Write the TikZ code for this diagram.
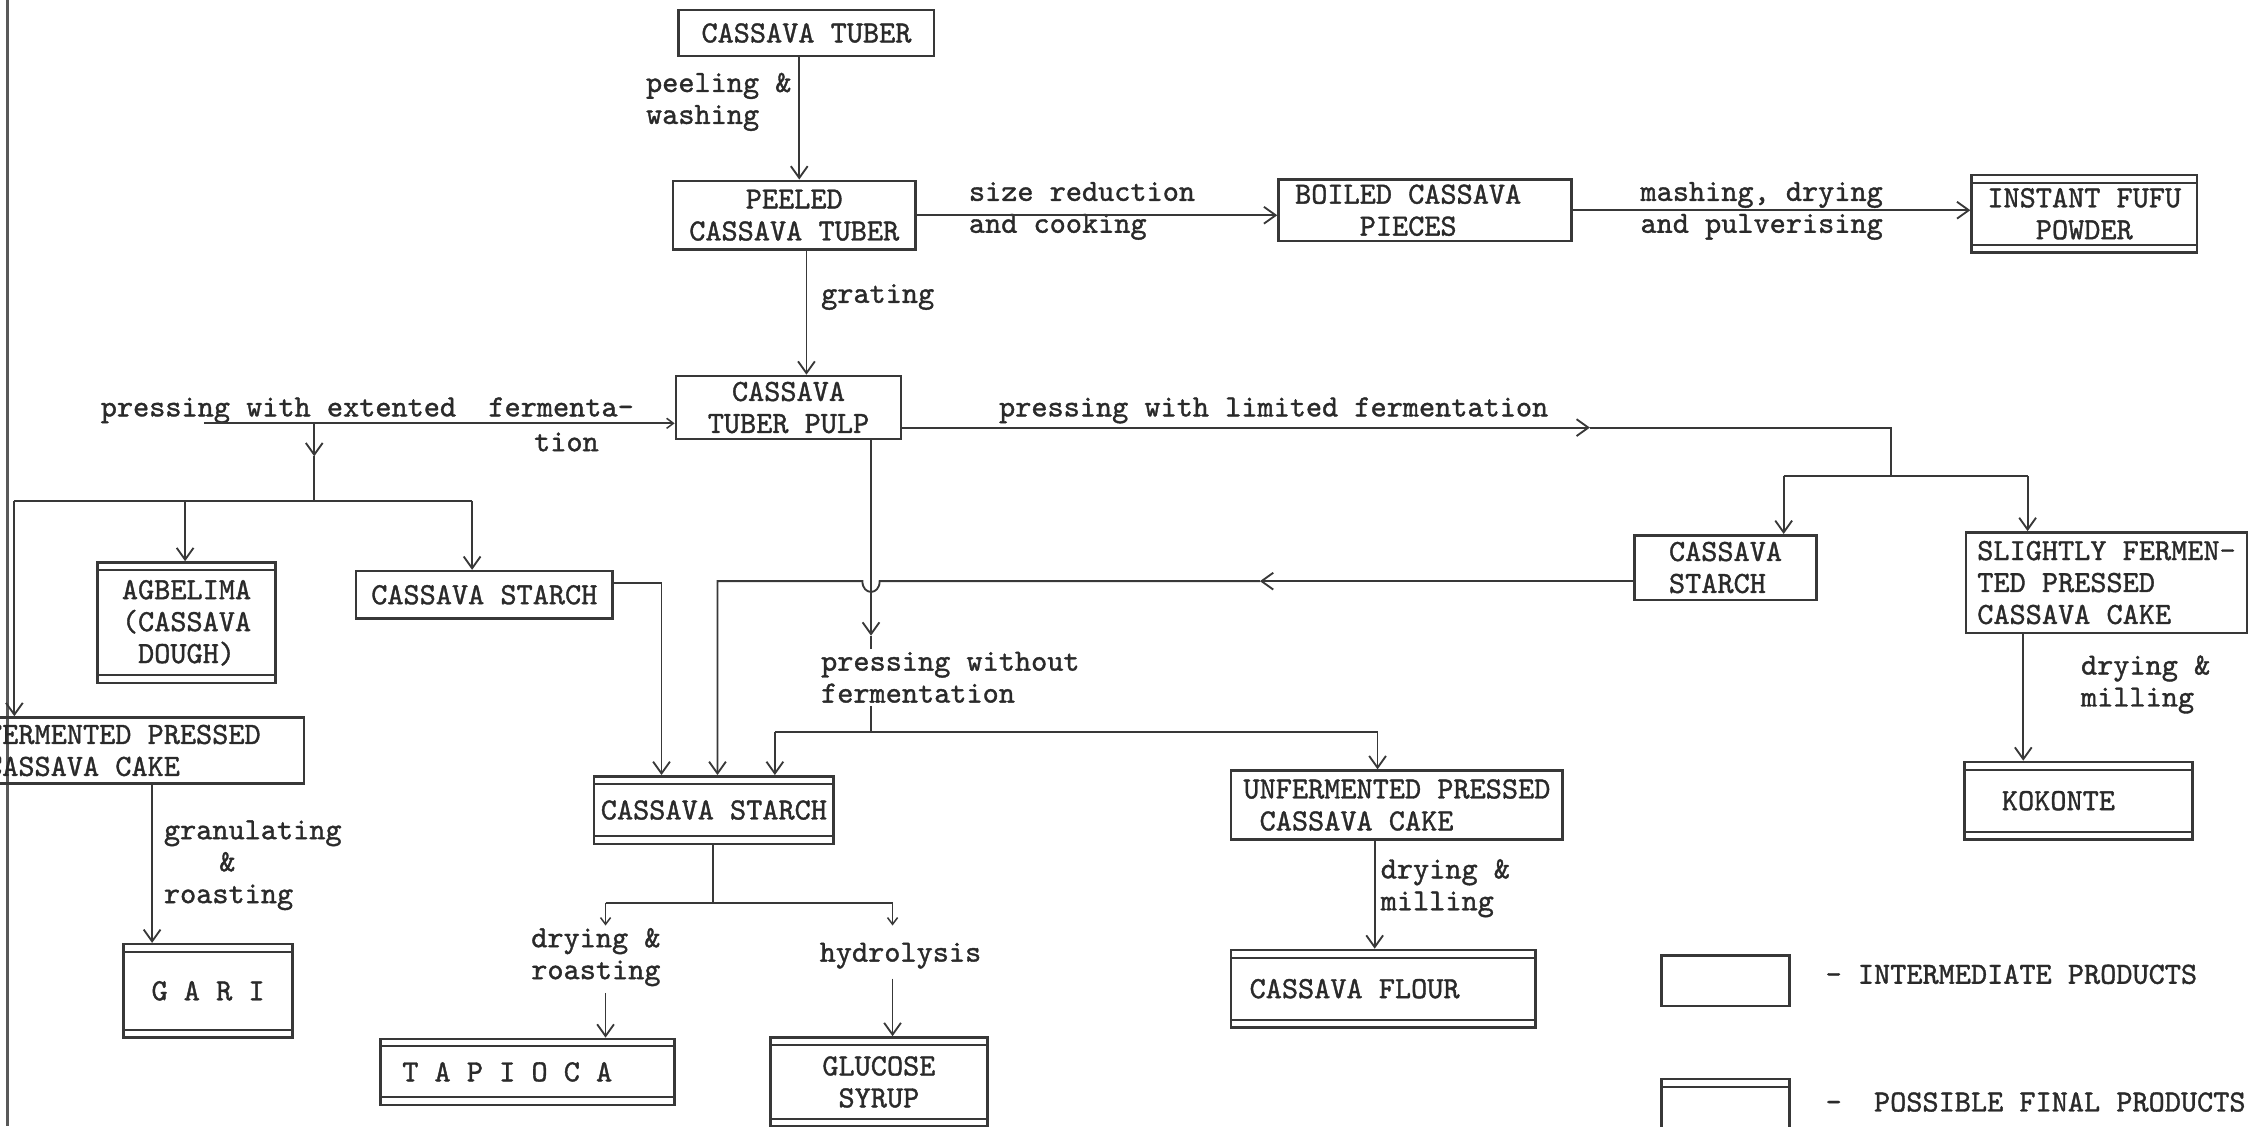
\documentclass[tikz,border=0pt]{standalone}
\usepackage{fontspec}
\usetikzlibrary{arrows.meta}
\newfontfamily\typew{lmmono10-regular.otf}[FakeBold=1.2]
\definecolor{ink}{HTML}{383838}
\definecolor{type}{HTML}{2A2A2A}
\newcommand{\typefont}{\fontsize{18.3}{19}\selectfont\typew}
\begin{document}
\begin{tikzpicture}[x=0.03cm, y=-0.03cm,
  conn/.style={draw=ink, line width=1.1pt},
  arr/.style={conn, -{Straight Barb[length=7pt,width=10pt,line width=1.1pt]}},
  tinyarr/.style={conn, -{Straight Barb[length=4pt,width=6pt,line width=0.9pt]}},
  ibox/.style={draw=ink, line width=1.5pt, inner sep=0pt, font=\typefont, text=type, align=center},
  fbox/.style={ibox, path picture={
    \draw[ink, line width=1.2pt]
      ([yshift=-4.5pt]path picture bounding box.north west) -- ([yshift=-4.5pt]path picture bounding box.north east)
      ([yshift=4.5pt]path picture bounding box.south west) -- ([yshift=4.5pt]path picture bounding box.south east);}},
  lbl/.style={font=\typefont, text=type, align=left, inner sep=0pt, anchor=west}]

\useasboundingbox (0,0) rectangle (1568,785);

% edge of the sheet
\draw[draw=black!65, line width=0.07cm] (5,0) -- (5,785);

% ---------- boxes ----------
\node[ibox, minimum width=5.34cm, minimum height=0.96cm] (tuber) at (562,23) {CASSAVA TUBER};
\node[ibox, minimum width=5.07cm, minimum height=1.44cm] (peeled) at (553.5,150) {PEELED\\CASSAVA TUBER};
\node[ibox, minimum width=6.12cm, minimum height=1.29cm] (boiled) at (993,146.5) {BOILED CASSAVA\hspace*{0.7cm}\\PIECES\hspace*{0.7cm}};
\node[fbox, minimum width=4.71cm, minimum height=1.62cm] (fufu) at (1452.5,149) {INSTANT FUFU\\POWDER};
\node[ibox, minimum width=4.71cm, minimum height=1.32cm] (pulp) at (549.5,284) {CASSAVA\\TUBER PULP};

\node[fbox, minimum width=3.72cm, minimum height=2.52cm] (agbelima) at (130,434) {AGBELIMA\\(CASSAVA\\DOUGH)};
\node[ibox, minimum width=5.37cm, minimum height=0.99cm] (starchL) at (337.5,414.5) {CASSAVA STARCH};
\node[ibox, minimum width=7.56cm, minimum height=1.38cm, align=left] (fcake) at (86,523) {FERMENTED PRESSED\\CASSAVA CAKE};
\node[fbox, minimum width=3.54cm, minimum height=1.95cm] (gari) at (145,690.5) {G A R I};

\node[fbox, minimum width=5.01cm, minimum height=1.41cm] (starchC) at (497.5,564.5) {CASSAVA STARCH};
\node[fbox, minimum width=6.15cm, minimum height=1.38cm] (tapioca) at (367.5,747) {T A P I O C A\hspace*{0.84cm}};
\node[fbox, minimum width=4.53cm, minimum height=1.86cm] (glucose) at (612.5,754) {GLUCOSE\\SYRUP};

\node[ibox, minimum width=6.93cm, minimum height=1.44cm, align=left] (unf) at (973.5,561) {UNFERMENTED PRESSED\\\hspace*{0.525em}CASSAVA CAKE};
\node[fbox, minimum width=6.36cm, minimum height=1.62cm] (flour) at (964,689) {CASSAVA FLOUR\hspace*{1.2cm}};

\node[ibox, minimum width=3.81cm, minimum height=1.35cm, align=left] (starchR) at (1202.5,395.5) {CASSAVA\\STARCH};
\node[ibox, minimum width=5.88cm, minimum height=2.1cm, align=left] (slight) at (1468,406) {SLIGHTLY FERMEN-\\TED PRESSED\\CASSAVA CAKE};
\node[fbox, minimum width=4.77cm, minimum height=1.62cm] (kokonte) at (1448.5,558) {KOKONTE\hspace*{0.84cm}};

% legend
\node[ibox, minimum width=2.67cm, minimum height=1.05cm] (legI) at (1202.5,683.5) {};
\node[fbox, minimum width=2.67cm, minimum height=1.44cm] (legF) at (1202.5,776) {};

% ---------- process labels ----------
\node[lbl] (lPeel) at (450,71) {peeling \&\\washing};
\node[lbl] (lSize) at (675,147) {size reduction\\and cooking};
\node[lbl] (lMash) at (1143,147) {mashing, drying\\and pulverising};
\node[lbl] (lGrate) at (572,207) {grating};
\node[lbl] (lExt) at (70,286) {pressing with extented\ \ fermenta-};
\node[lbl] (lTion) at (372,308) {tion};
\node[lbl] (lLim) at (696,286) {pressing with limited fermentation};
\node[lbl] (lGran) at (114,603) {granulating\\\hspace*{1.8em}\&\\roasting};
\node[lbl] (lWo) at (572,472) {pressing without\\fermentation};
\node[lbl] (lDR) at (370,667) {drying \&\\roasting};
\node[lbl] (lHyd) at (571,666) {hydrolysis};
\node[lbl] (lDM1) at (962,619) {drying \&\\milling};
\node[lbl] (lDM2) at (1450,477) {drying \&\\milling};
\node[lbl] (lLegI) at (1272,679) {-\ INTERMEDIATE PRODUCTS};
\node[lbl] (lLegF) at (1272,768) {-\ \ POSSIBLE FINAL PRODUCTS};

% ---------- routing points ----------
\coordinate (c1) at (557,0);
\coordinate (c2) at (562,0);
\coordinate (uL) at (142,295);
\coordinate (jL) at (219,295);
\coordinate (aL) at (219,318);
\coordinate (bL) at (219,349);
\coordinate (bLl) at (10,349);
\coordinate (cA) at (129,349);
\coordinate (bLr) at (329,349);
\coordinate (sL) at (461,406);
\coordinate (cG) at (106,0);
\coordinate (cP) at (607,0);
\coordinate (pA) at (607,443);
\coordinate (pEnd) at (607,452);
\coordinate (pw) at (607,492);
\coordinate (pwj) at (607,510);
\coordinate (pwl) at (540,510);
\coordinate (pwr) at (960,510);
\coordinate (hA) at (878,405);
\coordinate (hp1) at (613,405);
\coordinate (hp2) at (601,405);
\coordinate (hL) at (500,405);
\coordinate (rA) at (1108,298);
\coordinate (rJ) at (1318,298);
\coordinate (rJ2) at (1318,332);
\coordinate (rL) at (1243,332);
\coordinate (rR) at (1413,332);
\coordinate (cK) at (1410,0);
\coordinate (cF) at (958,0);
\coordinate (cS) at (497,0);
\coordinate (tJ) at (497,629);
\coordinate (tL) at (422,629);
\coordinate (tR) at (622,629);
\coordinate (tLa) at (422,645);
\coordinate (tRa) at (622,645);
\coordinate (tL2) at (422,692);
\coordinate (tR2) at (622,682);

% ---------- connectors ----------
\draw[arr] (tuber.south -| c1) -- (peeled.north -| c1);
\draw[arr] (peeled.south -| c2) -- (pulp.north -| c2);
\draw[arr] (peeled.east) -- (peeled.east -| boiled.west);
\draw[arr] (boiled.east) -- (boiled.east -| fufu.west);

% extended fermentation branch
\draw[tinyarr] (uL) -- (pulp.west |- uL);
\draw[arr] (jL) -- (aL);
\draw[conn] (aL) -- (bL);
\draw[conn] (bLl) -- (bLr);
\draw[arr] (bLl) -- (fcake.north -| bLl);
\draw[arr] (cA) -- (agbelima.north -| cA);
\draw[arr] (bLr) -- (starchL.north -| bLr);
\draw[arr] (starchL.east |- sL) -- (sL) -- (starchC.north -| sL);
\draw[arr] (fcake.south -| cG) -- (gari.north -| cG);

% pressing without fermentation
\draw[arr] (pulp.south -| cP) -- (pA);
\draw[conn] (pA) -- (pEnd);
\draw[conn] (pw) -- (pwj);
\draw[conn] (pwl) -- (pwr);
\draw[arr] (pwl) -- (starchC.north -| pwl);
\draw[arr] (pwr) -- (unf.north -| pwr);

% starch returned from the limited fermentation route
\draw[arr] (starchR.west |- hA) -- (hA);
\draw[arr] (hA) -- (hp1) .. controls +(0,10) and +(0,10) .. (hp2) -- (hL) -- (starchC.north -| hL);

% limited fermentation branch
\draw[arr] (pulp.east |- rA) -- (rA);
\draw[conn] (rA) -- (rJ) -- (rJ2);
\draw[conn] (rL) -- (rR);
\draw[arr] (rL) -- (starchR.north -| rL);
\draw[arr] (rR) -- (slight.north -| rR);
\draw[arr] (slight.south -| cK) -- (kokonte.north -| cK);

\draw[arr] (unf.south -| cF) -- (flour.north -| cF);

% starch products
\draw[conn] (starchC.south -| cS) -- (tJ);
\draw[conn] (tL) -- (tR);
\draw[tinyarr] (tL) -- (tLa);
\draw[tinyarr] (tR) -- (tRa);
\draw[arr] (tL2) -- (tapioca.north -| tL2);
\draw[arr] (tR2) -- (glucose.north -| tR2);

\end{tikzpicture}
\end{document}
